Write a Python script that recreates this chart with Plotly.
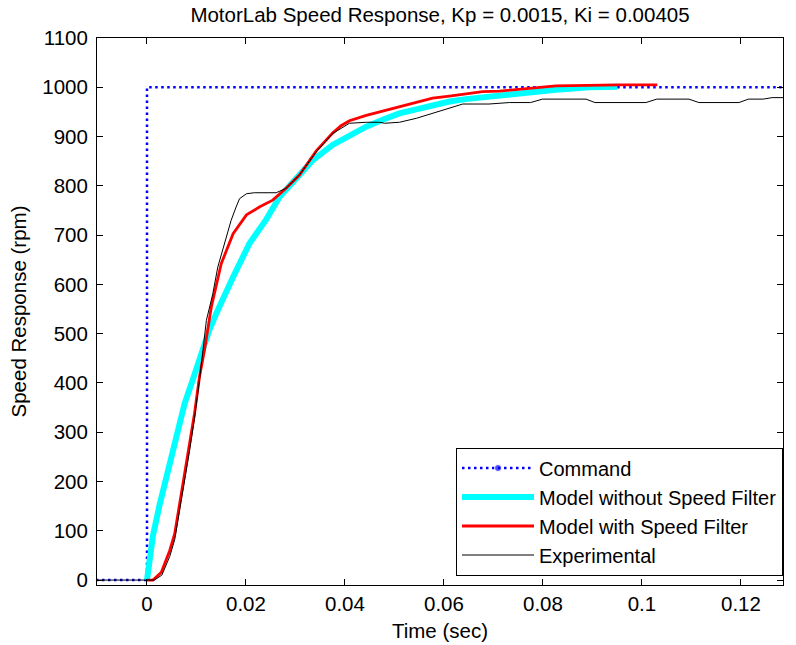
import plotly.graph_objects as go

# ---------------- data ----------------
cmd_t = [-0.02, 0.0, 0.0, 0.2]
cmd_v = [0, 0, 1000, 1000]

nofilt_t = [0.0, 0.0012, 0.0026, 0.0039, 0.0056, 0.0076, 0.0093, 0.011, 0.0125, 0.014,
            0.0155, 0.0174, 0.0207, 0.0241, 0.0268, 0.0301, 0.0335, 0.0375, 0.0409, 0.0443,
            0.0476, 0.051, 0.0544, 0.0577, 0.0611, 0.0644, 0.0678, 0.0712, 0.0758, 0.0826,
            0.0893, 0.095]
nofilt_v = [0, 90, 155, 209, 270, 358, 408, 462, 505, 541,
            575, 615, 683, 732, 778, 814, 852, 883, 903, 920,
            934, 947, 955, 964, 971, 976, 980, 984, 989, 995,
            1000, 1001]

filt_t = [0.0, 0.0012, 0.0029, 0.0046, 0.0056, 0.0066, 0.0076, 0.0086, 0.0096, 0.0106,
          0.0116, 0.013, 0.015, 0.0174, 0.0201, 0.0227, 0.0254, 0.0281, 0.0308, 0.0342,
          0.0375, 0.0392, 0.0409, 0.0443, 0.0476, 0.051, 0.0544, 0.0577, 0.0611, 0.0644,
          0.0678, 0.0712, 0.0772, 0.0826, 0.0954, 0.1031]
filt_v = [0, 0, 16, 60, 94, 155, 209, 277, 338, 412,
          466, 554, 642, 703, 741, 757, 771, 795, 822, 871,
          907, 922, 932, 943, 952, 961, 969, 978, 982, 986,
          991, 992, 997, 1003, 1005, 1005]

exp_t = [-0.01, 0.0, 0.0015, 0.003, 0.0046, 0.0056, 0.0066, 0.0076, 0.0086, 0.0096,
         0.0106, 0.012, 0.0133, 0.0143, 0.0157, 0.017, 0.018, 0.0187, 0.0201, 0.0217,
         0.0261, 0.0281, 0.0308, 0.0342, 0.0375, 0.0396, 0.0409, 0.0443, 0.047, 0.048,
         0.051, 0.0544, 0.0577, 0.0611, 0.0638, 0.0691, 0.0732, 0.0775, 0.0799, 0.0887,
         0.0905, 0.1008, 0.103, 0.1095, 0.1115, 0.1196, 0.1215, 0.1245, 0.1263, 0.1285]
exp_v = [0, 0, 0, 10, 48, 82, 140, 198, 262, 328,
         405, 527, 581, 635, 683, 730, 757, 774, 784, 786,
         786, 795, 822, 869, 906, 920, 927, 929, 929, 927,
         929, 937, 947, 957, 966, 966, 969, 969, 976, 976,
         969, 969, 976, 976, 969, 969, 976, 976, 979, 979]

x_ticks = [0, 0.02, 0.04, 0.06, 0.08, 0.1, 0.12]
x_tick_text = ["0", "0.02", "0.04", "0.06", "0.08", "0.1", "0.12"]
y_ticks = list(range(0, 1101, 100))

title_text = "MotorLab Speed Response, Kp = 0.0015, Ki = 0.00405"

# ---------------- figure ----------------
FONT = "Arial, Liberation Sans, sans-serif"
FS = 20.5
fig = go.Figure()

fig.add_trace(go.Scatter(
    x=cmd_t, y=cmd_v, name="Command", mode="lines+markers", legendgroup="a",
    line=dict(color="#0000FF", width=2.5, dash="2.5px,3.5px"),
    marker=dict(color="#0000FF", size=[28, 0, 0, 0], symbol="circle"),
    cliponaxis=True,
))
fig.add_trace(go.Scatter(
    x=nofilt_t, y=nofilt_v, name="Model without Speed Filter", mode="lines",
    legendgroup="b", line=dict(color="#00FFFF", width=6),
))
fig.add_trace(go.Scatter(
    x=filt_t, y=filt_v, name="Model with Speed Filter", mode="lines",
    legendgroup="c", line=dict(color="#FF0000", width=2.8),
))
fig.add_trace(go.Scatter(
    x=exp_t, y=exp_v, name="Experimental", mode="lines",
    legendgroup="d", line=dict(color="#000000", width=1),
))

W, H = 796, 645
L, R, T, B = 97, 13, 38, 59.5
fig.update_layout(
    width=W, height=H, autosize=False,
    margin=dict(l=L, r=R, t=T, b=B, pad=0, autoexpand=False),
    paper_bgcolor="white", plot_bgcolor="white",
    font=dict(family=FONT, size=FS, color="black"),
    title=dict(text=title_text, x=(L + (W - R)) / 2 / W, xanchor="center",
               y=1 - 15 / H, yanchor="middle", yref="container", xref="container",
               font=dict(family=FONT, size=FS, color="black")),
    showlegend=True,
    legend=dict(x=1, xanchor="right", y=(585.5 - 576) / (H - B - T), yanchor="bottom",
                bgcolor="white", bordercolor="black", borderwidth=1,
                font=dict(family=FONT, size=20, color="black"),
                tracegroupgap=0, traceorder="normal", itemwidth=72),
)
fig.update_xaxes(
    range=[-0.0101, 0.1285], tickvals=x_ticks, ticktext=x_tick_text,
    showline=True, linecolor="black", linewidth=1, mirror="ticks",
    ticks="inside", ticklen=6, tickcolor="black", showgrid=False, zeroline=False,
    automargin=False,
    title=dict(text="Time (sec)", standoff=10, font=dict(family=FONT, size=FS)),
    tickfont=dict(family=FONT, size=FS),
)
fig.update_yaxes(
    range=[-10, 1100], tickvals=y_ticks,
    showline=True, linecolor="black", linewidth=1, mirror="ticks",
    ticks="inside", ticklen=6, tickcolor="black", showgrid=False, zeroline=False,
    automargin=False, ticklabelstandoff=4,
    title=dict(text="Speed Response (rpm)", standoff=10, font=dict(family=FONT, size=FS)),
    tickfont=dict(family=FONT, size=FS),
)

fig.write_html("out.html")
